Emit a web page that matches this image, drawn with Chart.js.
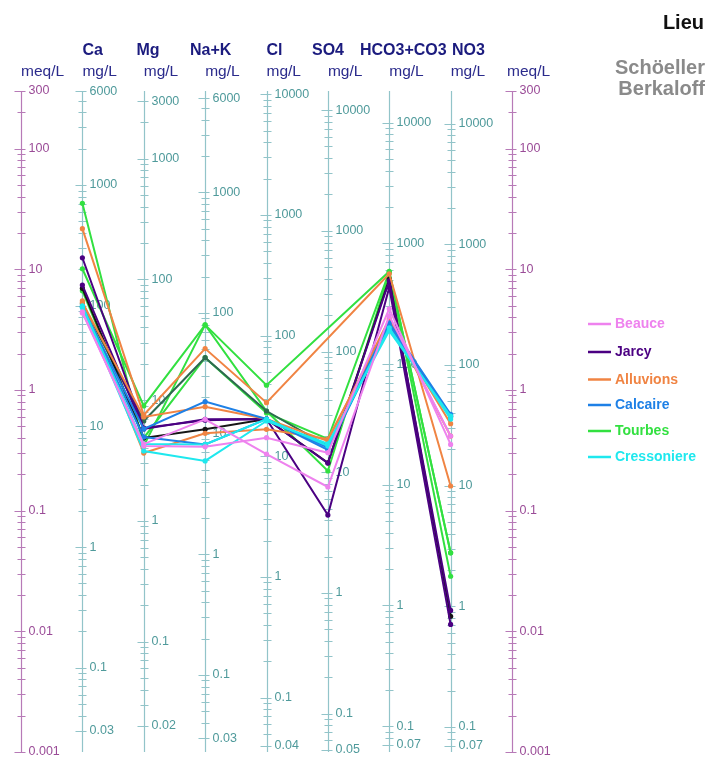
<!DOCTYPE html>
<html>
<head>
<meta charset="utf-8">
<script src="https://cdn.jsdelivr.net/npm/chart.js@4.4.0/dist/chart.umd.min.js"></script>
<style>
  body { margin: 0; background: #fff; }
  canvas { display: block; }
</style>
</head>
<body>
<canvas id="schoeller" width="708" height="757"></canvas>
<script>
"use strict";

// ions in diagram order and their equivalent weights (mg per meq)
var ions = ['Ca', 'Mg', 'Na+K', 'Cl', 'SO4', 'HCO3+CO3', 'NO3'];
var eqWeights = [20.04, 12.15, 23.0, 35.45, 48.03, 61.02, 62.0];

// labelled ticks, mg/L, one list per ion axis
var caTicks = [6000, 1000, 100, 10, 1, 0.1, 0.03];
var mgTicks = [3000, 1000, 100, 10, 1, 0.1, 0.02];
var naTicks = [6000, 1000, 100, 10, 1, 0.1, 0.03];
var clTicks = [10000, 1000, 100, 10, 1, 0.1, 0.04];
var so4Ticks = [10000, 1000, 100, 10, 1, 0.1, 0.05];
var hco3Ticks = [10000, 1000, 100, 10, 1, 0.1, 0.07];
var no3Ticks = [10000, 1000, 100, 10, 1, 0.1, 0.07];
var ionTicks = [caTicks, mgTicks, naTicks, clTicks, so4Ticks, hco3Ticks, no3Ticks];

// outer scale, meq/L
var meqTicks = [300, 100, 10, 1, 0.1, 0.01, 0.001];
var meqMin = 0.001;
var meqMax = 300;

// sampling sites
var groups = ['Beauce', 'Jarcy', 'Alluvions', 'Calcaire', 'Tourbes', 'Cressoniere'];
var groupColors = ['#ee82ee', '#4b0082', '#f08443', '#1e80e6', '#32e040', '#1ee8ee'];

// samples in meq/L : Ca, Mg, Na+K, Cl, SO4, HCO3+CO3, NO3 (null = not analysed)
var beauce1 = [4.44, 0.343, 0.338, 0.402, 0.302, 4.70, 0.354];
var beauce2 = [4.35, 0.356, 0.571, 0.294, 0.157, 4.11, 0.415];
var cresso1 = [4.79, 0.312, 0.258, 0.553, 0.358, 3.09, 0.608];
var cresso2 = [4.98, 0.356, 0.354, 0.574, 0.343, 3.27, 0.574];
var calc1 = [4.89, 0.475, 0.80, 0.574, 0.332, 3.60, 0.628];
var calc2 = [4.89, 0.407, 0.354, 0.574, 0.318, 3.40, 0.608];
var alluv1 = [21.7, 0.620, 2.20, 0.785, null, 9.18, 0.160];
var alluv2 = [5.48, 0.300, 0.437, 0.472, 0.392, 3.62, 0.525];
var alluv3 = [5.30, 0.597, 0.727, 0.574, 0.377, 3.88, 0.415];
var jarcy1 = [12.45, 0.484, 0.561, 0.574, 0.0918, 7.06, 0.0114];
var jarcy2 = [7.39, 0.475, 0.571, 0.574, 0.248, 8.03, 0.0149];
var jarcy3 = [6.95, 0.400, 0.472, 0.574, 0.249, 8.29, 0.0133];
var tourb1 = [35.2, 0.343, 3.46, 1.094, null, 9.59, 0.0447];
var tourb2 = [10.1, 0.737, 3.46, 0.669, 0.213, 9.35, 0.0286];
var tourb3 = [6.63, 0.400, 1.85, 0.644, 0.392, 9.53, 0.0447];
var tourb4 = [5.17, 0.553, 1.85, 0.669, 0.343, 3.62, 0.600];

var samples = [
	{ data: beauce1, color: groupColors[0] },
	{ data: beauce2, color: groupColors[0] },
	{ data: cresso1, color: groupColors[5] },
	{ data: cresso2, color: groupColors[5] },
	{ data: calc1, color: groupColors[3] },
	{ data: calc2, color: groupColors[3] },
	{ data: alluv1, color: groupColors[2] },
	{ data: alluv2, color: groupColors[2] },
	{ data: alluv3, color: groupColors[2] },
	{ data: jarcy1, color: groupColors[1] },
	{ data: jarcy2, color: groupColors[1] },
	{ data: jarcy3, color: '#161616' },
	{ data: tourb4, color: '#2d6a4f' },
	{ data: tourb1, color: groupColors[4] },
	{ data: tourb2, color: groupColors[4] },
	{ data: tourb3, color: groupColors[4] }
];

var FONT = '"Liberation Sans", Arial, sans-serif';

function BuildDatasets() {
	return samples.map(function (s) {
		return {
			data: s.data.map(function (v, i) { return { x: i + 1, y: v }; }),
			borderColor: s.color,
			backgroundColor: s.color,
			pointBackgroundColor: s.color,
			pointBorderWidth: 0,
			pointRadius: 2.6,
			borderWidth: 2,
			spanGaps: true,
			tension: 0
		};
	});
}

// one vertical log axis: the line, 1..9 ticks per decade, labelled values
function DrawLogAxis(ctx, ys, x, factor, labels, lineColor, textColor) {
	var top = ys.getPixelForValue(meqMax);
	var bottom = ys.getPixelForValue(meqMin);
	var lo = meqMin * factor * 0.9999;
	var hi = meqMax * factor * 1.0001;
	x = Math.round(x) + 0.5;

	ctx.strokeStyle = lineColor;
	ctx.lineWidth = 1.2;
	ctx.beginPath();
	ctx.moveTo(x, top);
	ctx.lineTo(x, bottom);
	for (var d = Math.floor(Math.log10(lo)); d <= Math.ceil(Math.log10(hi)); d++) {
		for (var n = 1; n <= 9; n++) {
			var v = n * Math.pow(10, d);
			if (v < lo || v > hi) continue;
			var y = Math.round(ys.getPixelForValue(v / factor)) + 0.5;
			ctx.moveTo(x - (n === 1 ? 7 : 4), y);
			ctx.lineTo(x + 4, y);
		}
	}
	labels.forEach(function (v) {
		var y = Math.round(ys.getPixelForValue(v / factor)) + 0.5;
		ctx.moveTo(x - 7, y);
		ctx.lineTo(x + 4, y);
	});
	ctx.stroke();

	ctx.fillStyle = textColor;
	ctx.font = '12.5px ' + FONT;
	ctx.textAlign = 'left';
	ctx.textBaseline = 'middle';
	labels.forEach(function (v) {
		ctx.fillText(String(v), x + 7, ys.getPixelForValue(v / factor));
	});
}

var schoellerAxes = {
	id: 'schoellerAxes',
	beforeDatasetsDraw: function (chart) {
		var ctx = chart.ctx;
		var xs = chart.scales.x;
		var ys = chart.scales.y;
		ctx.save();
		DrawLogAxis(ctx, ys, xs.getPixelForValue(0), 1, meqTicks, '#b77ab7', '#9a4b97');
		DrawLogAxis(ctx, ys, xs.getPixelForValue(8), 1, meqTicks, '#b77ab7', '#9a4b97');
		for (var i = 0; i < ions.length; i++) {
			DrawLogAxis(ctx, ys, xs.getPixelForValue(i + 1), eqWeights[i], ionTicks[i], '#92c4c9', '#4f9a9b');
		}
		ctx.restore();
	},
	afterDraw: function (chart) {
		var ctx = chart.ctx;
		var xs = chart.scales.x;
		var nameLeft = [82.5, 136.5, 190, 266.5, 312, 360, 452];
		ctx.save();
		ctx.textAlign = 'left';
		ctx.textBaseline = 'alphabetic';

		// ion names and units
		ctx.fillStyle = '#1b1b7e';
		ctx.font = 'bold 16px ' + FONT;
		ions.forEach(function (name, i) { ctx.fillText(name, nameLeft[i], 54.5); });
		ctx.fillStyle = '#2b2b8c';
		ctx.font = '15.5px ' + FONT;
		ions.forEach(function (name, i) { ctx.fillText('mg/L', xs.getPixelForValue(i + 1), 75.5); });
		ctx.fillText('meq/L', xs.getPixelForValue(0), 75.5);
		ctx.fillText('meq/L', xs.getPixelForValue(8) - 5, 75.5);

		// title block
		ctx.textAlign = 'right';
		ctx.fillStyle = '#111';
		ctx.font = 'bold 20px ' + FONT;
		ctx.fillText('Lieu', 704, 28.5);
		ctx.fillStyle = '#8a8a8a';
		ctx.font = 'bold 20px ' + FONT;
		ctx.fillText('Schöeller', 705, 73.5);
		ctx.fillText('Berkaloff', 705, 95);

		// site legend
		var legendY = [324, 352, 379.5, 405, 431, 457];
		ctx.textAlign = 'left';
		ctx.textBaseline = 'middle';
		ctx.font = 'bold 14px ' + FONT;
		ctx.lineWidth = 2.5;
		groups.forEach(function (g, i) {
			ctx.strokeStyle = groupColors[i];
			ctx.beginPath();
			ctx.moveTo(588, legendY[i]);
			ctx.lineTo(611, legendY[i]);
			ctx.stroke();
			ctx.fillStyle = groupColors[i];
			ctx.fillText(g, 615, legendY[i] + 0.5);
		});
		ctx.restore();
	}
};

var myChart = new Chart(document.getElementById('schoeller'), {
	type: 'line',
	data: { datasets: BuildDatasets() },
	options: {
		responsive: false,
		animation: false,
		layout: { padding: { left: 21, right: 196, top: 91, bottom: 5 } },
		scales: {
			x: { type: 'linear', min: 0, max: 8, display: false },
			y: { type: 'logarithmic', min: meqMin, max: meqMax, display: false }
		},
		plugins: {
			legend: { display: false },
			tooltip: { enabled: false }
		}
	},
	plugins: [schoellerAxes]
});
</script>
</body>
</html>
